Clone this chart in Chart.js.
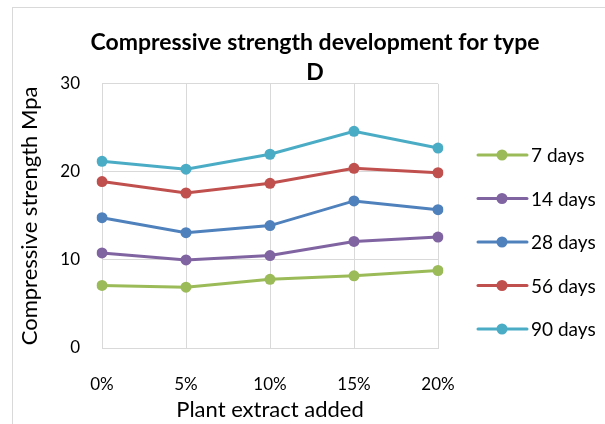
<!DOCTYPE html>
<html>
<head>
<meta charset="utf-8">
<script src="https://cdn.jsdelivr.net/npm/chart.js@4/dist/chart.umd.min.js"></script>
<style>
  html, body { margin: 0; padding: 0; background: #fff; overflow: hidden; width: 605px; height: 424px; }
  #frame { position: absolute; left: 12px; top: 7px; width: 640px; height: 440px; border: 1px solid #d9d9d9; box-sizing: border-box; }
  #wrap { position: absolute; left: 0; top: 0; width: 630px; height: 424px; }
</style>
</head>
<body>
<div id="frame"></div>
<div id="wrap"><canvas id="c" width="630" height="424"></canvas></div>
<script>
// Compressive strength (MPa) of type D against plant extract dosage
const categories = ['0%', '5%', '10%', '15%', '20%'];
const seriesNames = ['7 days', '14 days', '28 days', '56 days', '90 days'];
const days7  = [7.1, 6.9, 7.8, 8.2, 8.8];
const days14 = [10.8, 10.0, 10.5, 12.1, 12.6];
const days28 = [14.8, 13.1, 13.9, 16.7, 15.7];
const days56 = [18.9, 17.6, 18.7, 20.4, 19.9];
const days90 = [21.2, 20.3, 22.0, 24.6, 22.7];
const yTicks = [0, 10, 20, 30];

const seriesValues = [days7, days14, days28, days56, days90];
const seriesColors = ['#9BBB59', '#8064A2', '#4F81BD', '#C0504D', '#4BACC6'];
const FONT = 'Lato';

// Legend drawn as a line with a round marker, stacked on the right
const lineLegend = {
  id: 'lineLegend',
  afterDraw(chart) {
    const ctx = chart.ctx;
    const xLine0 = chart.chartArea.right + 40;
    const xLine1 = xLine0 + 49;
    const xMark = xLine0 + 24;
    const xText = xLine1 + 4;
    const y0 = 155, step = 43.5;
    ctx.save();
    chart.data.datasets.forEach((ds, i) => {
      const y = y0 + i * step;
      ctx.strokeStyle = ds.borderColor;
      ctx.lineWidth = 3;
      ctx.lineCap = 'round';
      ctx.beginPath();
      ctx.moveTo(xLine0, y);
      ctx.lineTo(xLine1, y);
      ctx.stroke();
      ctx.fillStyle = ds.borderColor;
      ctx.beginPath();
      ctx.arc(xMark, y, 5.5, 0, Math.PI * 2);
      ctx.fill();
      ctx.fillStyle = '#000';
      ctx.font = '19px ' + FONT;
      ctx.textBaseline = 'middle';
      ctx.textAlign = 'left';
      ctx.fillText(ds.label, xText, y + 1);
    });
    ctx.restore();
  }
};

new Chart(document.getElementById('c'), {
  type: 'line',
  data: {
    labels: categories,
    datasets: seriesNames.map((name, i) => ({
      label: name,
      data: seriesValues[i],
      borderColor: seriesColors[i],
      backgroundColor: seriesColors[i],
      pointBackgroundColor: seriesColors[i],
      pointBorderColor: seriesColors[i],
      pointBorderWidth: 0,
      pointRadius: 5.5,
      borderWidth: 3,
      tension: 0,
      fill: false
    }))
  },
  options: {
    responsive: false,
    animation: false,
    events: [],
    layout: { padding: 0 },
    plugins: {
      legend: { display: false },
      tooltip: { enabled: false },
      title: {
        display: true,
        text: ['Compressive strength development for type', 'D'],
        color: '#000',
        font: { family: FONT, size: 23, weight: 'bold', lineHeight: 1.3 },
        padding: { top: 28, bottom: -4 }
      }
    },
    scales: {
      x: {
        type: 'category',
        offset: false,
        grid: { color: '#d9d9d9', lineWidth: 1, drawTicks: false, offset: false },
        border: { display: true, color: '#d9d9d9' },
        ticks: { color: '#000', font: { family: FONT, size: 17 }, padding: 26, maxRotation: 0 },
        title: {
          display: true,
          text: 'Plant extract added',
          color: '#000',
          font: { family: FONT, size: 22 },
          padding: { top: 0, bottom: 1 }
        },
        afterFit: s => { s.height = 76; }
      },
      y: {
        position: 'left',
        min: 0,
        max: 30,
        grid: { color: '#d9d9d9', lineWidth: 1, drawTicks: false },
        border: { display: true, color: '#d9d9d9' },
        ticks: { color: '#000', font: { family: FONT, size: 17 }, padding: 22 },
        afterBuildTicks: s => { s.ticks = yTicks.map(v => ({ value: v })); },
        title: {
          display: true,
          text: 'Compressive strength Mpa',
          color: '#000',
          font: { family: FONT, size: 22 },
          padding: { top: 17, bottom: 0 }
        },
        afterFit: s => { s.width = 102; }
      },
      legendSpace: {
        type: 'linear',
        position: 'right',
        display: true,
        grid: { display: false },
        border: { display: false },
        ticks: { display: false },
        afterFit: s => { s.width = 192; }
      }
    }
  },
  plugins: [lineLegend]
});
</script>
</body>
</html>
